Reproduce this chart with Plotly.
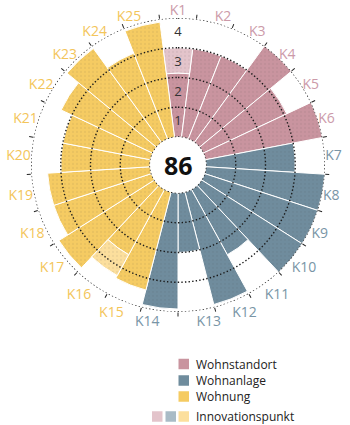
import numpy as np
import plotly.graph_objects as go

# ---------------- data ----------------
categories = [f"K{i}" for i in range(1, 26)]
groups = ["Wohnstandort"] * 6 + ["Wohnanlage"] * 8 + ["Wohnung"] * 11
base_values = [2.15, 3.0, 3.0, 4.0, 3.1, 4.0,
               3.0, 4.0, 4.0, 4.0, 2.5, 3.9, 2.0, 3.9,
               3.4, 2.5, 3.8, 3.45, 3.45, 3.0, 3.0, 3.4, 3.9, 3.1, 3.9]
innovation_values = [0.85, 0, 0, 0, 0, 0,
                     0, 0, 0, 0, 0, 0, 0, 0,
                     0, 0.8, 0, 0, 0, 0, 0, 0, 0, 0, 0]
center_score = "86"
ring_values = [0, 1, 2, 3, 4]
ring_label_r = [0.5, 1.5, 2.5, 3.5]
ring_labels = ["1", "2", "3", "4"]
legend_groups = ["Wohnstandort", "Wohnanlage", "Wohnung"]
innovation_label = "Innovationspunkt"

# ---------------- styles ----------------
bar_colors = {"Wohnstandort": "#C9949F", "Wohnanlage": "#6F8C9D", "Wohnung": "#F5CB62"}
light_colors = {"Wohnstandort": "#E3C4CB", "Wohnanlage": "#A9BBC6", "Wohnung": "#FCDF9D"}
label_colors = {"Wohnstandort": "#CC9AA9", "Wohnanlage": "#7995A6", "Wohnung": "#F3C55A"}
FONT = "Open Sans"
W, H = 350, 425
CX, CY, R = 178, 165, 147
HOLE = 28 / 147

n = len(categories)
step = 360 / n
theta_c = [i * step for i in range(n)]
theta_b = [(i + 0.5) * step for i in range(n)]

dom_x = [(CX - R) / W, (CX + R) / W]
dom_y = [1 - (CY + R) / H, 1 - (CY - R) / H]

fig = go.Figure()

pattern = dict(shape=".", size=4, solidity=0.25, fgcolor="#000000", fgopacity=0.07)

fig.add_trace(go.Barpolar(
    r=base_values, theta=theta_c, width=[step] * n,
    marker=dict(color=[bar_colors[g] for g in groups],
                line=dict(color="white", width=1), pattern=pattern),
    showlegend=False, hoverinfo="skip"))
fig.add_trace(go.Barpolar(
    r=innovation_values, theta=theta_c, width=[step] * n, base=base_values,
    marker=dict(color=[light_colors[g] for g in groups],
                line=dict(color="white", width=1), pattern=pattern),
    showlegend=False, hoverinfo="skip"))

ring_theta = np.linspace(0, 360, 721)
for rv in ring_values:
    fig.add_trace(go.Scatterpolar(
        r=[rv] * len(ring_theta), theta=ring_theta, mode="lines",
        line=dict(color="#1a1a1a", width=1.4, dash="1.4px,2.2px"),
        cliponaxis=False, showlegend=False, hoverinfo="skip"))

fig.add_trace(go.Scatterpolar(
    r=ring_label_r, theta=[0] * len(ring_label_r), mode="text", text=ring_labels,
    textfont=dict(family=FONT, size=13, color="#333333"),
    showlegend=False, hoverinfo="skip"))

# tick marks at category boundaries (second overlaid polar)
fig.add_trace(go.Scatterpolar(r=[0], theta=[0], mode="markers",
                              marker=dict(opacity=0), subplot="polar2",
                              showlegend=False, hoverinfo="skip"))

ticktext = [f"<span style='color:{label_colors[g]}'>{c}</span>" for c, g in zip(categories, groups)]

common_polar = dict(domain=dict(x=dom_x, y=dom_y), hole=HOLE, bgcolor="rgba(0,0,0,0)")
fig.update_layout(
    width=W, height=H, margin=dict(l=0, r=0, t=0, b=0),
    paper_bgcolor="white", plot_bgcolor="white",
    font=dict(family=FONT),
    polar=dict(
        **common_polar, barmode="stack",
        radialaxis=dict(range=[0, 4], visible=True, showline=False, showgrid=False,
                        showticklabels=False, ticks=""),
        angularaxis=dict(type="linear", thetaunit="degrees", rotation=90, direction="clockwise",
                         tickvals=theta_c, ticktext=ticktext, showline=False, showgrid=False,
                         ticks="",
                         tickfont=dict(family=FONT, size=14, color="#999999"))),
    polar2=dict(
        **common_polar,
        radialaxis=dict(range=[0, 4], visible=False),
        angularaxis=dict(type="linear", thetaunit="degrees", rotation=90, direction="clockwise",
                         tickvals=theta_b, showticklabels=False, showline=False, showgrid=False,
                         ticks="outside", ticklen=4, tickwidth=1, tickcolor="#222222")),
)

# centre score
fig.add_annotation(x=CX / W, y=1 - CY / H, xref="paper", yref="paper", text=f"<b>{center_score}</b>",
                   showarrow=False, font=dict(family=FONT, size=25, color="#111111"),
                   xanchor="center", yanchor="middle")

# legend (manual)
def px(x, y):
    return x / W, 1 - y / H

sq = 10.5
rows_y = [364, 380.5, 396.5]
for g, yc in zip(legend_groups, rows_y):
    x0, y0 = px(178.5, yc - sq / 2)
    x1, y1 = px(178.5 + sq, yc + sq / 2)
    fig.add_shape(type="rect", xref="paper", yref="paper", x0=x0, x1=x1, y0=y1, y1=y0,
                  fillcolor=bar_colors[g], line=dict(width=0))
    tx, ty = px(194, yc)
    fig.add_annotation(x=tx, y=ty, xref="paper", yref="paper", text=g, showarrow=False,
                       xanchor="left", yanchor="middle",
                       font=dict(family=FONT, size=12, color="#222222"))

yc = 416.5
for g, xs in zip(legend_groups, [152, 165.5, 178.5]):
    x0, y0 = px(xs, yc - sq / 2)
    x1, y1 = px(xs + sq, yc + sq / 2)
    fig.add_shape(type="rect", xref="paper", yref="paper", x0=x0, x1=x1, y0=y1, y1=y0,
                  fillcolor=light_colors[g], line=dict(width=0))
tx, ty = px(194, yc)
fig.add_annotation(x=tx, y=ty, xref="paper", yref="paper", text=innovation_label, showarrow=False,
                   xanchor="left", yanchor="middle",
                   font=dict(family=FONT, size=12, color="#222222"))

fig.write_html("out.html")
